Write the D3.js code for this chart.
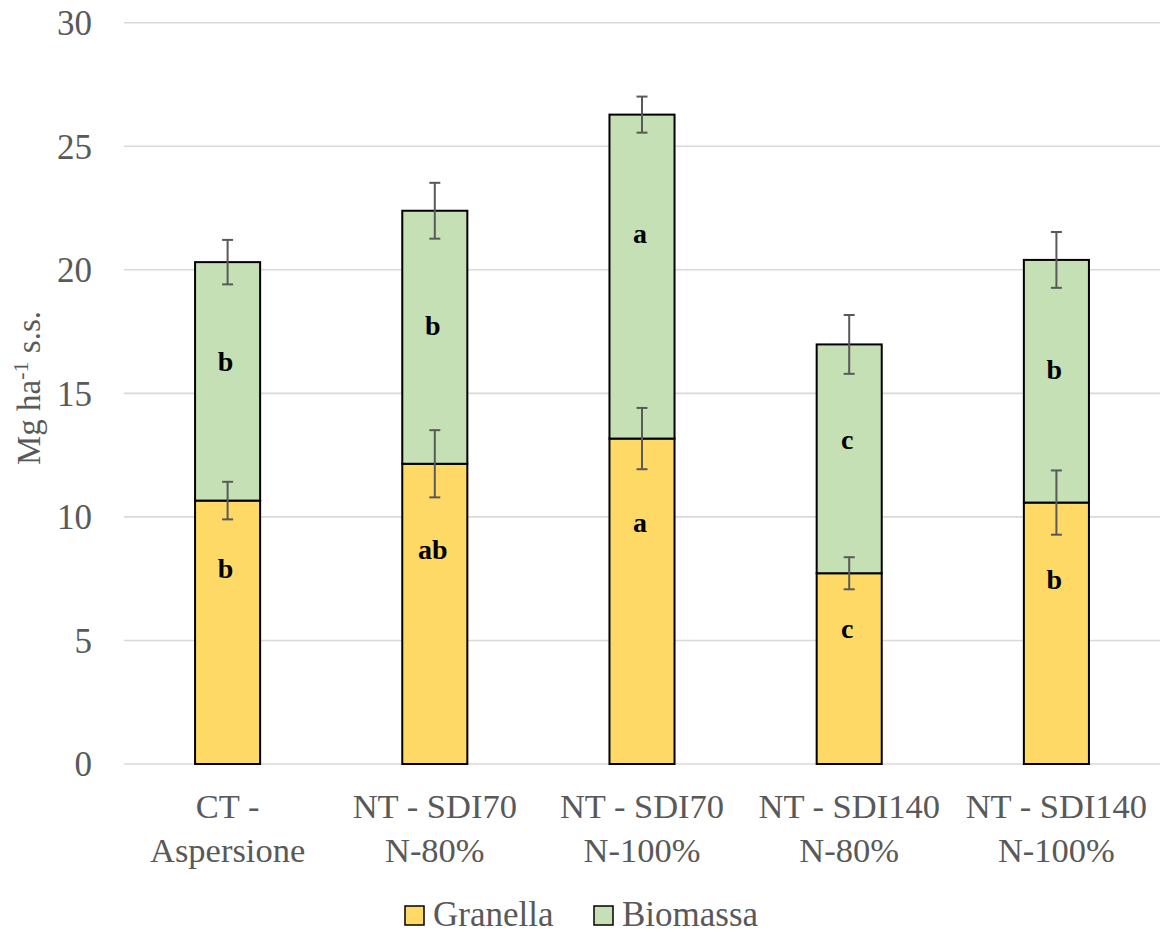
<!DOCTYPE html>
<html><head><meta charset="utf-8">
<script src="https://cdn.jsdelivr.net/npm/d3@7"></script>
<style>body{margin:0;background:#fff;} svg{display:block;}</style>
</head><body>
<script>
const categories = [["CT -","Aspersione"],["NT - SDI70","N-80%"],["NT - SDI70","N-100%"],["NT - SDI140","N-80%"],["NT - SDI140","N-100%"]];
const granella = [10.66, 12.15, 13.17, 7.72, 10.58];
const biomassa = [9.65, 10.24, 13.11, 9.26, 9.82];
const granellaErr = [0.76, 1.36, 1.24, 0.65, 1.30];
const totalErr = [0.90, 1.13, 0.73, 1.19, 1.13];
const granellaLetters = ["b","ab","a","c","b"];
const biomassaLetters = ["b","b","a","c","b"];
const granellaLetterAt = [7.94, 8.70, 9.80, 5.51, 7.49];
const biomassaLetterAt = [16.32, 17.77, 21.50, 13.16, 15.99];
const yTicks = [0,5,10,15,20,25,30];
const seriesNames = ["Granella","Biomassa"];
const colors = ["#FFD966","#C5E0B4"];

const FONT="Liberation Serif";
const W=1160,H=933;
const svg=d3.select("body").append("svg").attr("width",W).attr("height",H).style("font-family",FONT);
const x=d3.scaleBand().domain(d3.range(categories.length)).range([124,1160]).paddingInner(0.686).paddingOuter(0.343);
const y=d3.scaleLinear().domain([0,30]).range([764,22.7]);

// gridlines
svg.append("g").selectAll("line").data(yTicks).join("line")
 .attr("x1",124).attr("x2",1160).attr("y1",d=>y(d)).attr("y2",d=>y(d))
 .attr("stroke","#D9D9D9").attr("stroke-width",1.6);
// y tick labels
svg.append("g").selectAll("text").data(yTicks).join("text")
 .attr("x",92).attr("y",d=>y(d)).attr("dy","0.35em").attr("text-anchor","end")
 .style("font-family",FONT).attr("font-size",35).attr("fill","#595959").text(d=>d);
// axis title
svg.append("text").attr("transform","translate(40,388) rotate(-90)").attr("text-anchor","middle")
 .style("font-family",FONT).attr("font-size",33).attr("fill","#595959")
 .call(t=>{t.append("tspan").text("Mg ha");t.append("tspan").attr("dy",-12).attr("font-size",22).text("-1");t.append("tspan").attr("dy",12).text(" s.s.");});

const stackData = categories.map((c,i)=>({i, g:granella[i], b:biomassa[i]}));
const bw=x.bandwidth();
const bars=svg.append("g");
bars.selectAll("rect.g").data(stackData).join("rect").attr("class","g")
 .attr("x",d=>x(d.i)).attr("width",bw).attr("y",d=>y(d.g)).attr("height",d=>y(0)-y(d.g))
 .attr("fill",colors[0]).attr("stroke","#000").attr("stroke-width",2);
bars.selectAll("rect.b").data(stackData).join("rect").attr("class","b")
 .attr("x",d=>x(d.i)).attr("width",bw).attr("y",d=>y(d.g+d.b)).attr("height",d=>y(d.g)-y(d.g+d.b))
 .attr("fill",colors[1]).attr("stroke","#000").attr("stroke-width",2);

// error bars
function errBars(vals, errs){
  const g=svg.append("g").attr("stroke","#595959").attr("stroke-width",2);
  vals.forEach((v,i)=>{
    const cx=x(i)+bw/2;
    g.append("line").attr("x1",cx).attr("x2",cx).attr("y1",y(v+errs[i])).attr("y2",y(v-errs[i]));
    [v+errs[i],v-errs[i]].forEach(e=>g.append("line").attr("x1",cx-5.5).attr("x2",cx+5.5).attr("y1",y(e)).attr("y2",y(e)));
  });
}
errBars(granella, granellaErr);
errBars(granella.map((g,i)=>g+biomassa[i]), totalErr);

// letters
function letters(labels,pos){
  svg.append("g").selectAll("text").data(labels).join("text")
   .attr("x",(d,i)=>x(i)+bw/2-2).attr("y",(d,i)=>y(pos[i])).attr("dy","0.35em").attr("text-anchor","middle")
   .style("font-family",FONT).attr("font-weight","bold").attr("font-size",28).attr("fill","#000").text(d=>d);
}
letters(granellaLetters,granellaLetterAt);
letters(biomassaLetters,biomassaLetterAt);

// category labels
const cl=svg.append("g");
categories.forEach((c,i)=>{
  c.forEach((line,j)=>{
    cl.append("text").attr("x",x(i)+bw/2).attr("y",818+j*44).attr("text-anchor","middle")
     .style("font-family",FONT).attr("font-size",34.5).attr("fill","#595959").text(line);
  });
});

// legend
const legX=[405,594];
seriesNames.forEach((s,i)=>{
  svg.append("rect").attr("x",legX[i]).attr("y",906).attr("width",19).attr("height",19)
   .attr("fill",colors[i]).attr("stroke","#000").attr("stroke-width",1.5);
  svg.append("text").attr("x",legX[i]+28).attr("y",926).style("font-family",FONT).attr("font-size",35)
   .attr("fill","#595959").text(s);
});
</script>
</body></html>
